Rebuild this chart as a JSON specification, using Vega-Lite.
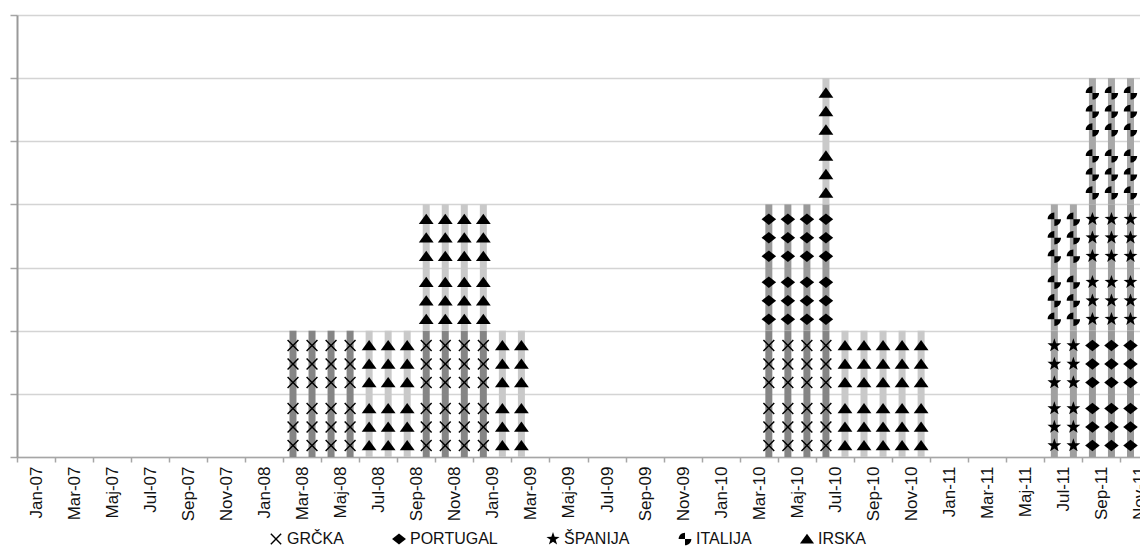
{
  "$schema": "https://vega.github.io/schema/vega-lite/v6.json",
  "width": 1123,
  "height": 442,
  "autosize": {"type": "none"},
  "padding": {"left": 17, "top": 15, "right": 0, "bottom": 95},
  "background": "white",
  "config": {
    "view": {"stroke": null},
    "font": "Liberation Sans",
    "legend": {
      "orient": "none",
      "legendX": 251,
      "legendY": 516,
      "direction": "horizontal",
      "columns": 5,
      "title": null,
      "labelFontSize": 16,
      "labelFont": "Liberation Sans",
      "labelColor": "#111111",
      "labelOffset": 3,
      "columnPadding": 47,
      "symbolSize": 200,
      "symbolFillColor": "black",
      "symbolStrokeColor": "black",
      "symbolStrokeWidth": 0,
      "symbolOpacity": 1
    }
  },
  "data": {
    "values": [
      {"m": "Mar-08", "c": "GRČKA", "lo": 0, "hi": 2},
      {"m": "Apr-08", "c": "GRČKA", "lo": 0, "hi": 2},
      {"m": "Maj-08", "c": "GRČKA", "lo": 0, "hi": 2},
      {"m": "Jun-08", "c": "GRČKA", "lo": 0, "hi": 2},
      {"m": "Jul-08", "c": "IRSKA", "lo": 0, "hi": 2},
      {"m": "Avg-08", "c": "IRSKA", "lo": 0, "hi": 2},
      {"m": "Sep-08", "c": "IRSKA", "lo": 0, "hi": 2},
      {"m": "Okt-08", "c": "GRČKA", "lo": 0, "hi": 2},
      {"m": "Nov-08", "c": "GRČKA", "lo": 0, "hi": 2},
      {"m": "Dec-08", "c": "GRČKA", "lo": 0, "hi": 2},
      {"m": "Jan-09", "c": "GRČKA", "lo": 0, "hi": 2},
      {"m": "Okt-08", "c": "IRSKA", "lo": 2, "hi": 4},
      {"m": "Nov-08", "c": "IRSKA", "lo": 2, "hi": 4},
      {"m": "Dec-08", "c": "IRSKA", "lo": 2, "hi": 4},
      {"m": "Jan-09", "c": "IRSKA", "lo": 2, "hi": 4},
      {"m": "Feb-09", "c": "IRSKA", "lo": 0, "hi": 2},
      {"m": "Mar-09", "c": "IRSKA", "lo": 0, "hi": 2},
      {"m": "Apr-10", "c": "GRČKA", "lo": 0, "hi": 2},
      {"m": "Maj-10", "c": "GRČKA", "lo": 0, "hi": 2},
      {"m": "Jun-10", "c": "GRČKA", "lo": 0, "hi": 2},
      {"m": "Jul-10", "c": "GRČKA", "lo": 0, "hi": 2},
      {"m": "Apr-10", "c": "PORTUGAL", "lo": 2, "hi": 4},
      {"m": "Maj-10", "c": "PORTUGAL", "lo": 2, "hi": 4},
      {"m": "Jun-10", "c": "PORTUGAL", "lo": 2, "hi": 4},
      {"m": "Jul-10", "c": "PORTUGAL", "lo": 2, "hi": 4},
      {"m": "Jul-10", "c": "IRSKA", "lo": 4, "hi": 6},
      {"m": "Avg-10", "c": "IRSKA", "lo": 0, "hi": 2},
      {"m": "Sep-10", "c": "IRSKA", "lo": 0, "hi": 2},
      {"m": "Okt-10", "c": "IRSKA", "lo": 0, "hi": 2},
      {"m": "Nov-10", "c": "IRSKA", "lo": 0, "hi": 2},
      {"m": "Dec-10", "c": "IRSKA", "lo": 0, "hi": 2},
      {"m": "Jul-11", "c": "ŠPANIJA", "lo": 0, "hi": 2},
      {"m": "Avg-11", "c": "ŠPANIJA", "lo": 0, "hi": 2},
      {"m": "Jul-11", "c": "ITALIJA", "lo": 2, "hi": 4},
      {"m": "Avg-11", "c": "ITALIJA", "lo": 2, "hi": 4},
      {"m": "Sep-11", "c": "PORTUGAL", "lo": 0, "hi": 2},
      {"m": "Okt-11", "c": "PORTUGAL", "lo": 0, "hi": 2},
      {"m": "Nov-11", "c": "PORTUGAL", "lo": 0, "hi": 2},
      {"m": "Sep-11", "c": "ŠPANIJA", "lo": 2, "hi": 4},
      {"m": "Okt-11", "c": "ŠPANIJA", "lo": 2, "hi": 4},
      {"m": "Nov-11", "c": "ŠPANIJA", "lo": 2, "hi": 4},
      {"m": "Sep-11", "c": "ITALIJA", "lo": 4, "hi": 6},
      {"m": "Okt-11", "c": "ITALIJA", "lo": 4, "hi": 6},
      {"m": "Nov-11", "c": "ITALIJA", "lo": 4, "hi": 6}
    ]
  },
  "encoding": {
    "x": {
      "field": "m",
      "type": "ordinal",
      "sort": null,
      "scale": {
        "domain": ["Jan-07","Feb-07","Mar-07","Apr-07","Maj-07","Jun-07","Jul-07","Avg-07","Sep-07","Okt-07","Nov-07","Dec-07",
                   "Jan-08","Feb-08","Mar-08","Apr-08","Maj-08","Jun-08","Jul-08","Avg-08","Sep-08","Okt-08","Nov-08","Dec-08",
                   "Jan-09","Feb-09","Mar-09","Apr-09","Maj-09","Jun-09","Jul-09","Avg-09","Sep-09","Okt-09","Nov-09","Dec-09",
                   "Jan-10","Feb-10","Mar-10","Apr-10","Maj-10","Jun-10","Jul-10","Avg-10","Sep-10","Okt-10","Nov-10","Dec-10",
                   "Jan-11","Feb-11","Mar-11","Apr-11","Maj-11","Jun-11","Jul-11","Avg-11","Sep-11","Okt-11","Nov-11"],
        "paddingInner": 0,
        "paddingOuter": 0
      },
      "axis": {
        "title": null,
        "values": ["Jan-07","Mar-07","Maj-07","Jul-07","Sep-07","Nov-07",
                   "Jan-08","Mar-08","Maj-08","Jul-08","Sep-08","Nov-08",
                   "Jan-09","Mar-09","Maj-09","Jul-09","Sep-09","Nov-09",
                   "Jan-10","Mar-10","Maj-10","Jul-10","Sep-10","Nov-10",
                   "Jan-11","Mar-11","Maj-11","Jul-11","Sep-11","Nov-11"],
        "bandPosition": 0,
        "labelOffset": 10,
        "labelAngle": 270,
        "labelAlign": "right",
        "labelBaseline": "middle",
        "labelFontSize": 17,
        "labelColor": "#111111",
        "labelFont": "Liberation Sans Narrow, Liberation Sans",
        "labelPadding": 4,
        "labelOverlap": false,
        "labelBound": false,
        "tickSize": 5,
        "tickColor": "#a6a6a6",
        "tickWidth": 1.5,
        "domainColor": "#a6a6a6",
        "domainWidth": 1.5,
        "grid": false
      }
    }
  },
  "layer": [
    {
      "mark": {"type": "bar", "width": 7},
      "encoding": {
        "y": {
          "field": "lo",
          "type": "quantitative",
          "scale": {"domain": [0, 7], "nice": false},
          "axis": {
            "title": null,
            "values": [0, 1, 2, 3, 4, 5, 6, 7],
            "labels": false,
            "tickSize": 7,
            "tickColor": "#a6a6a6",
            "tickWidth": 1.5,
            "domainColor": "#999999",
            "domainWidth": 2,
            "grid": true,
            "gridColor": "#d4d4d4",
            "gridWidth": 1.5
          }
        },
        "y2": {"field": "hi"},
        "color": {
          "field": "c",
          "type": "nominal",
          "scale": {
            "domain": ["IRSKA", "GRČKA", "PORTUGAL", "ŠPANIJA", "ITALIJA"],
            "range": ["#c9c9c9", "#858585", "#9a9a9a", "#a0a0a0", "#a8a8a8"]
          },
          "legend": null
        }
      }
    },
    {
      "mark": {"type": "point", "filled": true, "color": "black", "opacity": 1, "size": 220, "strokeWidth": 0, "yOffset": -11.5},
      "encoding": {
        "y": {"field": "lo", "type": "quantitative"},
        "shape": {
          "field": "c",
          "type": "nominal",
          "scale": {
            "domain": ["GRČKA", "PORTUGAL", "ŠPANIJA", "ITALIJA", "IRSKA"],
            "range": [
              "M-0.8,-0.66 L-0.66,-0.8 L0,-0.14 L0.66,-0.8 L0.8,-0.66 L0.14,0 L0.8,0.66 L0.66,0.8 L0,0.14 L-0.66,0.8 L-0.8,0.66 L-0.14,0 Z",
              "M0,-0.78 L0.98,0 L0,0.78 L-0.98,0 Z",
              "M0,-0.98 L0.23,-0.32 L0.93,-0.3 L0.37,0.12 L0.58,0.79 L0,0.39 L-0.58,0.79 L-0.37,0.12 L-0.93,-0.3 L-0.23,-0.32 Z",
              "M0,0 L-0.9,0 A0.9,0.9 0 0 1 0,-0.9 Z M0,0 L0.9,0 A0.9,0.9 0 0 1 0,0.9 Z",
              "M0,-0.75 L1,0.65 L-1,0.65 Z"
            ]
          }
        }
      }
    },
    {
      "mark": {"type": "point", "filled": true, "color": "black", "opacity": 1, "size": 220, "strokeWidth": 0, "yOffset": -30},
      "encoding": {"y": {"field": "lo", "type": "quantitative"}, "shape": {"field": "c", "type": "nominal"}}
    },
    {
      "mark": {"type": "point", "filled": true, "color": "black", "opacity": 1, "size": 220, "strokeWidth": 0, "yOffset": -48.5},
      "encoding": {"y": {"field": "lo", "type": "quantitative"}, "shape": {"field": "c", "type": "nominal"}}
    },
    {
      "mark": {"type": "point", "filled": true, "color": "black", "opacity": 1, "size": 220, "strokeWidth": 0, "yOffset": -74.5},
      "encoding": {"y": {"field": "lo", "type": "quantitative"}, "shape": {"field": "c", "type": "nominal"}}
    },
    {
      "mark": {"type": "point", "filled": true, "color": "black", "opacity": 1, "size": 220, "strokeWidth": 0, "yOffset": -93},
      "encoding": {"y": {"field": "lo", "type": "quantitative"}, "shape": {"field": "c", "type": "nominal"}}
    },
    {
      "mark": {"type": "point", "filled": true, "color": "black", "opacity": 1, "size": 220, "strokeWidth": 0, "yOffset": -111.5},
      "encoding": {"y": {"field": "lo", "type": "quantitative"}, "shape": {"field": "c", "type": "nominal"}}
    }
  ]
}
